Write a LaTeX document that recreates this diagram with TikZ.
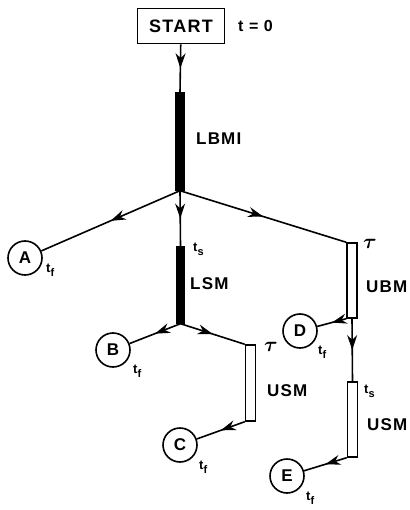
\documentclass[tikz,border=0pt]{standalone}
\usepackage{amsmath}
\usepackage{fontspec}
\setmainfont{Liberation Sans}[LetterSpace=7]
\usetikzlibrary{decorations.markings,arrows.meta}
\newcommand{\mysub}[1]{t\raisebox{-4pt}{\fontsize{11}{11}\selectfont #1}}
\newcommand{\mytau}{\fontsize{22}{22}\selectfont$\boldsymbol{\tau}$}
\begin{document}
\begin{tikzpicture}[x=1pt,y=-1pt,
  lbl/.style={font=\fontsize{17}{17}\selectfont\bfseries,inner sep=0pt},
  small/.style={font=\fontsize{13}{13}\selectfont\bfseries,inner sep=0pt},
  circ/.style={circle,draw,line width=1.6pt,minimum size=34pt,inner sep=0pt,font=\fontsize{17}{17}\selectfont\bfseries},
  fullbar/.style={draw,fill=black,line width=1.4pt,minimum width=8pt,inner sep=0pt},
  openbar/.style={draw,fill=white,line width=1.4pt,minimum width=10pt,inner sep=0pt},
  conn/.style={line width=1.6pt,postaction={decorate},decoration={markings,mark=at position 0.5 with {\arrow{Stealth[length=15pt,width=10pt]}}}}
]
\useasboundingbox (0,0) rectangle (409,510);
\node[draw,line width=1.6pt,minimum width=87pt,minimum height=35pt,inner sep=0pt,font=\fontsize{18}{18}\selectfont\bfseries] (start) at (181,26) {START};
\node[anchor=west,inner sep=0pt,font=\fontsize{16}{16}\selectfont\bfseries] (t0) at (238,26) {t = 0};
\node[fullbar,minimum height=97pt] (lbmi) at (180,141.5) {};
\node[lbl,anchor=west] (lbmil) at (196,139) {LBMI};
\node[fullbar,minimum height=76pt] (lsm) at (180.5,285) {};
\node[lbl,anchor=west] (lsml) at (190,284) {LSM};
\node[small,anchor=west] (tsl) at (193,249) {\mysub{s}};
\node[openbar,minimum height=75pt] (ubm) at (352,280.5) {};
\node[lbl,anchor=west] (ubml) at (366,287) {UBM};
\node[small,anchor=west] (tau1) at (363,244) {\mytau};
\node[openbar,minimum height=76pt] (usm1) at (250.5,383) {};
\node[lbl,anchor=west] (usm1l) at (267,391) {USM};
\node[small,anchor=west] (tau2) at (264,347) {\mytau};
\node[openbar,minimum height=75pt] (usm2) at (352.5,419.5) {};
\node[lbl,anchor=west] (usm2l) at (367,425) {USM};
\node[small,anchor=west] (ts2) at (364,391) {\mysub{s}};
\node[circ] (A) at (25,258) {A};
\node[small,anchor=west] (tfA) at (46,270) {\mysub{f}};
\node[circ] (B) at (113,350) {B};
\node[small,anchor=west] (tfB) at (133,371) {\mysub{f}};
\node[circ] (C) at (180,445) {C};
\node[small,anchor=west] (tfC) at (199,467) {\mysub{f}};
\node[circ] (D) at (300,331) {D};
\node[small,anchor=west] (tfD) at (318,352) {\mysub{f}};
\node[circ] (E) at (287,476) {E};
\node[small,anchor=west] (tfE) at (306,498) {\mysub{f}};
\draw[conn] (start) -- (lbmi.north);
\draw[conn] (lbmi.south) -- (A);
\draw[conn] (lbmi.south) -- (lsm.north);
\draw[conn] (lbmi.south) -- (ubm.north west);
\draw[conn] (lsm.south) -- (B);
\draw[conn] (lsm.south) -- (usm1.north west);
\draw[conn] (usm1.south west) -- (C);
\draw[conn] (ubm.south west) -- (D);
\draw[conn] (ubm.south) -- (usm2.north);
\draw[conn] (usm2.south west) -- (E);
\end{tikzpicture}
\end{document}
